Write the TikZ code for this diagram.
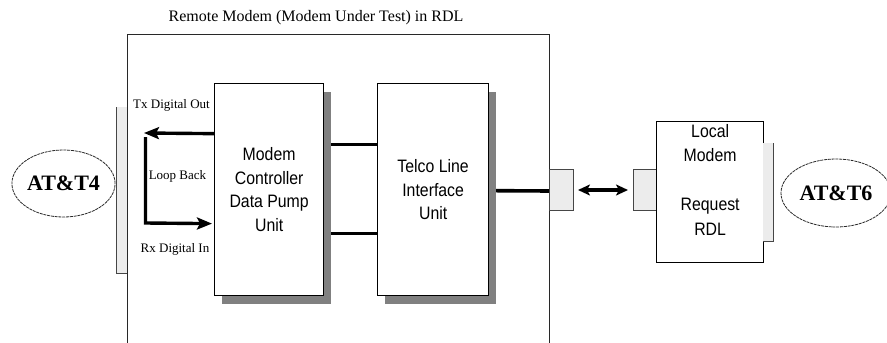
\documentclass[tikz,border=0pt]{standalone}
\usepackage{fontspec}
\setmainfont{Liberation Serif}
\newfontfamily\unitfont[FakeStretch=0.88]{Liberation Sans}
\usepackage{tikz}
\usetikzlibrary{shapes.geometric, arrows.meta, positioning, shadows, backgrounds}
\definecolor{shadowgray}{RGB}{128,128,128}
\definecolor{portgray}{RGB}{236,236,236}
\definecolor{edgegray}{RGB}{70,70,70}
\definecolor{framegray}{RGB}{40,40,40}

\begin{document}
\begin{tikzpicture}[
  x=1pt, y=-1pt,
  frame/.style={draw=framegray, line width=1.2pt, anchor=north west,
                minimum width=422pt, minimum height=340pt, inner sep=0pt},
  unit/.style={draw, line width=1.3pt, fill=white, anchor=north west,
               minimum height=212pt, inner sep=0pt, align=center,
               font=\unitfont\fontsize{18}{23.5}\selectfont,
               drop shadow={shadow xshift=7pt, shadow yshift=-8pt,
                            fill=shadowgray, opacity=1}},
  plainunit/.style={draw, line width=1.3pt, fill=white, anchor=north west,
                    minimum width=107pt, minimum height=141pt, inner sep=0pt},
  unittext/.style={align=center, inner sep=0pt,
                   font=\unitfont\fontsize{18}{24.5}\selectfont},
  port/.style={draw=edgegray, line width=1pt, fill=portgray, anchor=north west,
               minimum height=41pt, inner sep=0pt},
  jack/.style={fill=portgray, anchor=north west, inner sep=0pt},
  terminal/.style={ellipse, draw=framegray, line width=0.8pt,
                   dash pattern=on 3pt off 0.8pt,
                   font=\fontsize{22}{24}\selectfont\bfseries, inner sep=0pt},
  sig/.style={font=\fontsize{13}{15}\selectfont, inner sep=0pt},
  bus/.style={line width=3.6pt},
  loopline/.style={line width=3.4pt, -{Stealth[length=15pt, width=12pt, inset=3pt]}},
  duplex/.style={line width=3.6pt,
                 {Stealth[length=12pt, width=11pt, inset=3pt]}-{Stealth[length=12pt, width=11pt, inset=3pt]}},
]
\useasboundingbox (0,0) rectangle (887,343);
\clip (0,0) rectangle (887,343);

%% Remote modem enclosure
\node[frame] (rdl) at (127,34) {};
\node[font=\fontsize{16}{18}\selectfont, inner sep=0pt] (title) at (316,18)
  {Remote Modem (Modem Under Test) in RDL};

%% Jacks on the enclosures
\node[jack, minimum width=11pt, minimum height=166pt] (jackL) at (116,107) {};
\draw[edgegray, line width=1pt] (jackL.north west) -- (jackL.south west) -- (jackL.south east);

%% Units inside the remote modem
\node[unit, minimum width=109pt] (modem) at (214,83)
  {Modem\\Controller\\Data Pump\\Unit};
\node[unit, minimum width=111pt] (telco) at (377,83)
  {Telco Line\\Interface\\Unit};

%% Line ports
\node[port, minimum width=24pt] (portR) at (549,169) {};
\node[port, minimum width=23pt] (portL) at (633,169) {};

%% Local modem
\node[plainunit] (local) at (656,121) {};
\node[unittext, below=3pt of local.north] (localtxt)
  {Local\\Modem\\[24.5pt]Request\\RDL};
\node[jack, minimum width=10pt, minimum height=98pt] (jackR) at (763,143) {};
\draw[edgegray, line width=1pt] (jackR.north east) -- (jackR.south east) -- (jackR.south west);

%% Terminals
\node[terminal, minimum width=97pt, minimum height=67pt] (atL) at (63.5,183.5) {AT\&T4};
\node[terminal, minimum width=110pt, minimum height=68pt] (atR) at (836,193) {AT\&T6};

%% Connections
\begin{scope}[on background layer]
  \draw[bus] ([yshift=45pt]modem.east) -- ([yshift=45pt]telco.west);
  \draw[bus] ([yshift=-44pt]modem.east) -- ([yshift=-44pt]telco.west);
  \draw[bus] ([yshift=-1pt]telco.east) -- ([yshift=-1pt]portR.west);
\end{scope}
\draw[duplex, shorten <=4pt, shorten >=5pt] (portR.east) -- (portL.west);

%% Loop back
\coordinate (txend) at (144,133);
\coordinate (rxcorner) at (145.5,223);
\draw[loopline] ([yshift=56pt]modem.west) -- (txend);
\draw[loopline, shorten >=2pt] ([xshift=1.5pt, yshift=-4pt]txend) -- (rxcorner)
  -- ([yshift=-34pt]modem.west);

\node[sig] (tx) at (171.5,105) {Tx Digital Out};
\node[sig] (lb) at (177.5,176) {Loop Back};
\node[sig] (rx) at (175,249) {Rx Digital In};

\end{tikzpicture}
\end{document}
